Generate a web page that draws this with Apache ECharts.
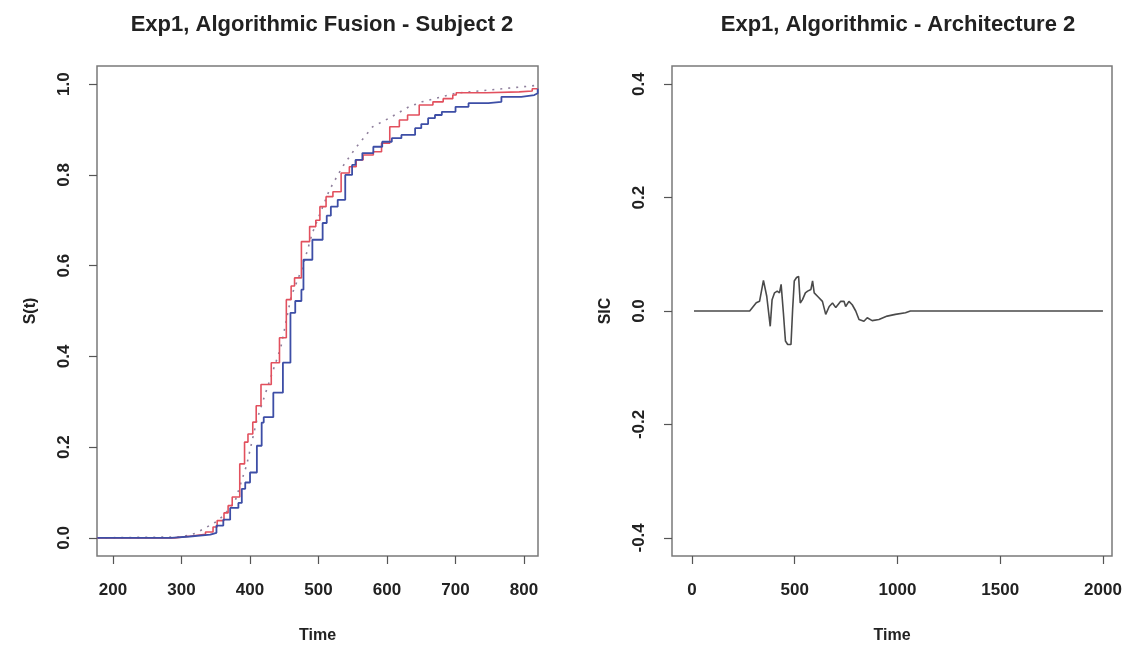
<!DOCTYPE html>
<html>
<head>
<meta charset="utf-8">
<script src="https://cdn.jsdelivr.net/npm/echarts@6/dist/echarts.min.js"></script>
<style>html,body{margin:0;padding:0;background:#fff}#c{width:1128px;height:650px}</style>
</head>
<body>
<div id="c"></div>
<script>
// ---- Data ----
const leftTitle = 'Exp1, Algorithmic Fusion - Subject 2';
const rightTitle = 'Exp1, Algorithmic - Architecture 2';
const leftXTicks = [200, 300, 400, 500, 600, 700, 800];
const leftYTicks = [0, 0.2, 0.4, 0.6, 0.8, 1.0];
const rightXTicks = [0, 500, 1000, 1500, 2000];
const rightYTicks = [-0.4, -0.2, 0, 0.2, 0.4];

// red step curve: [time, level after step]
const redT = [177,290,315,335,346,352,362,368,374,385,392,397,404,409,416,431,443,453,460,465,475,487,496,502,511,521,533,545,555,565,580,592,604,618,630,647,667,682,696,701,745,793,812,820];
const redS = [0,0.004,0.008,0.013,0.024,0.038,0.055,0.071,0.09,0.163,0.211,0.229,0.255,0.291,0.338,0.386,0.441,0.525,0.555,0.573,0.653,0.686,0.70,0.73,0.752,0.763,0.804,0.818,0.833,0.844,0.851,0.87,0.906,0.921,0.932,0.954,0.961,0.968,0.976,0.981,0.983,0.985,0.99,0.99];

// blue step curve
const blueT = [177,285,312,342,351,361,371,383,388,393,400,410,417,420,434,448,459,466,475,478,491,506,512,518,528,539,549,554,564,580,593,607,621,641,650,660,670,680,700,719,748,767,796,815,820];
const blueS = [0,0.003,0.007,0.011,0.027,0.04,0.066,0.077,0.108,0.122,0.144,0.203,0.254,0.266,0.32,0.386,0.496,0.522,0.547,0.613,0.657,0.694,0.71,0.73,0.745,0.80,0.822,0.833,0.848,0.862,0.873,0.881,0.888,0.903,0.912,0.925,0.932,0.939,0.95,0.958,0.961,0.972,0.976,0.98,0.99];

// dotted curve
const dotT = [177,300,320,335,350,362,378,395,410,425,445,460,477,491,516,535,554,579,603,632,651,700,748,811,820];
const dotS = [0,0.002,0.01,0.022,0.035,0.05,0.08,0.16,0.26,0.33,0.42,0.532,0.598,0.672,0.767,0.818,0.859,0.906,0.925,0.95,0.961,0.98,0.987,0.996,0.998];

// SIC curve
const sicT = [10,281,313,329,348,364,381,390,402,415,426,434,445,455,466,482,490,498,509,519,527,538,552,563,579,587,595,611,635,651,668,684,700,724,740,748,764,780,797,813,837,853,877,910,950,990,1039,1063,2000];
const sicV = [0,0,0.0145,0.017,0.054,0.026,-0.027,0.02,0.032,0.035,0.032,0.047,-0.003,-0.053,-0.059,-0.059,0.003,0.053,0.059,0.061,0.014,0.02,0.032,0.035,0.038,0.053,0.032,0.026,0.017,-0.006,0.008,0.014,0.006,0.017,0.017,0.008,0.017,0.011,0,-0.015,-0.018,-0.012,-0.017,-0.015,-0.009,-0.006,-0.003,0,0];

const zip = (a, b) => a.map((v, i) => [v, b[i]]);

// ---- Chart ----
const FONT = '"Liberation Sans", Arial, sans-serif';
const TXT = '#222';
const chart = echarts.init(document.getElementById('c'), null, {renderer: 'canvas'});

function xAxisCfg(idx, min, max, ticks) {
  return {
    type: 'value', gridIndex: idx, min: min, max: max,
    name: 'Time', nameLocation: 'middle', nameGap: 72,
    nameTextStyle: {fontFamily: FONT, fontSize: 16, fontWeight: 'bold', color: TXT},
    axisLine: {show: false, onZero: false},
    axisTick: {show: true, length: 8, customValues: ticks, lineStyle: {color: '#555', width: 1.2}},
    axisLabel: {customValues: ticks, margin: 26, fontFamily: FONT, fontSize: 17, fontWeight: 'bold', color: TXT,
      formatter: v => String(v)},
    splitLine: {show: false}
  };
}
function yAxisCfg(idx, min, max, ticks, name, gap) {
  return {
    type: 'value', gridIndex: idx, min: min, max: max,
    name: name, nameLocation: 'middle', nameGap: gap, nameRotate: 90,
    nameTextStyle: {fontFamily: FONT, fontSize: 16, fontWeight: 'bold', color: TXT},
    axisLine: {show: false, onZero: false},
    axisTick: {show: true, length: 8, customValues: ticks, lineStyle: {color: '#555', width: 1.2}},
    axisLabel: {customValues: ticks, rotate: 90, margin: 24, fontFamily: FONT, fontSize: 17, fontWeight: 'bold', color: TXT,
      formatter: v => v.toFixed(1)},
    splitLine: {show: false}
  };
}

chart.setOption({
  animation: false,
  backgroundColor: '#fff',
  title: [
    {text: leftTitle, left: 317, top: 9, textAlign: 'center',
     textStyle: {fontFamily: FONT, fontSize: 22, fontWeight: 'bold', color: TXT}},
    {text: rightTitle, left: 893, top: 9, textAlign: 'center',
     textStyle: {fontFamily: FONT, fontSize: 22, fontWeight: 'bold', color: TXT}}
  ],
  grid: [
    {left: 97, top: 66, width: 441, height: 490, show: true, borderColor: '#7a7a7a', borderWidth: 1.5, containLabel: false},
    {left: 672, top: 66, width: 440, height: 490, show: true, borderColor: '#7a7a7a', borderWidth: 1.5, containLabel: false}
  ],
  xAxis: [
    xAxisCfg(0, 176.6, 820.4, leftXTicks),
    xAxisCfg(1, -97, 2044, rightXTicks)
  ],
  yAxis: [
    yAxisCfg(0, -0.04, 1.04, leftYTicks, 'S(t)', 58),
    yAxisCfg(1, -0.432, 0.432, rightYTicks, 'SIC', 58)
  ],
  series: [
    {type: 'line', xAxisIndex: 0, yAxisIndex: 0, data: zip(dotT, dotS), showSymbol: false,
     lineStyle: {color: '#8f7f9c', width: 1.6, type: [2, 6]}, z: 2},
    {type: 'line', xAxisIndex: 0, yAxisIndex: 0, data: zip(redT, redS), step: 'end', showSymbol: false,
     lineStyle: {color: '#e2505e', width: 1.6}, z: 3},
    {type: 'line', xAxisIndex: 0, yAxisIndex: 0, data: zip(blueT, blueS), step: 'end', showSymbol: false,
     lineStyle: {color: '#3d4ea6', width: 1.8}, z: 4},
    {type: 'line', xAxisIndex: 1, yAxisIndex: 1, data: zip(sicT, sicV), showSymbol: false,
     lineStyle: {color: '#4a4a4a', width: 1.6}, z: 3}
  ]
});
</script>
</body>
</html>
